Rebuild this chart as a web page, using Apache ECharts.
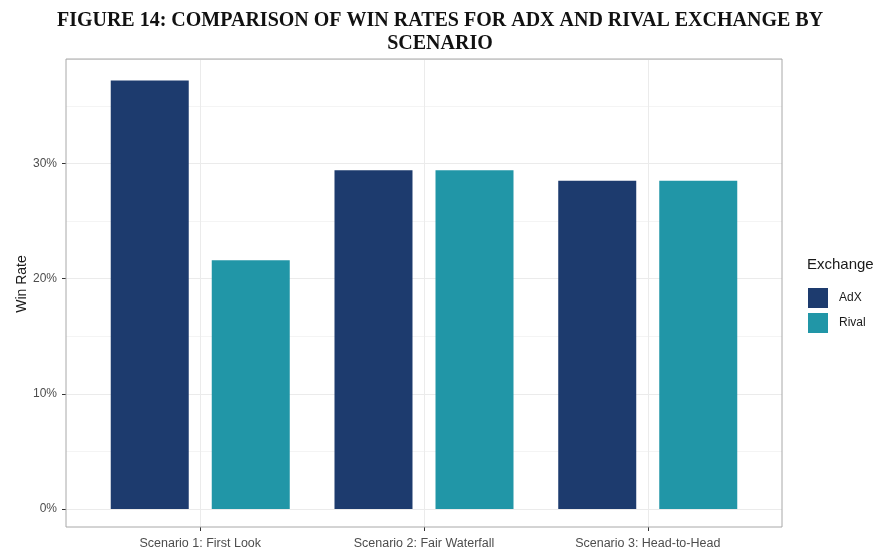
<!DOCTYPE html>
<html>
<head>
<meta charset="utf-8">
<script src="https://cdn.jsdelivr.net/npm/echarts@6/dist/echarts.min.js"></script>
<style>
html,body{margin:0;padding:0;background:#fff;}
#chart{width:880px;height:550px;}
</style>
</head>
<body>
<div id="chart"></div>
<script>
const scenarios = ['Scenario 1: First Look', 'Scenario 2: Fair Waterfall', 'Scenario 3: Head-to-Head'];
const scenarioPos = [1, 2, 3];
const adxRates = [37.2, 29.4, 28.5];
const rivalRates = [21.6, 29.4, 28.5];
const yTickValues = [0, 10, 20, 30];
const seriesNames = ['AdX', 'Rival'];

const FONT = '"Liberation Sans", Arial, sans-serif';
const chart = echarts.init(document.getElementById('chart'), null, {renderer: 'canvas'});

const yMax = 39.06;
const xMin = 0.4, xMax = 3.6;

chart.setOption({
  animation: false,
  backgroundColor: '#ffffff',
  title: [
    {
      text: 'FIGURE 14: COMPARISON OF WIN RATES FOR ADX AND RIVAL EXCHANGE BY\nSCENARIO',
      left: 440, top: 9, padding: 0, textAlign: 'center',
      textStyle: {fontFamily: '"Liberation Serif", "Times New Roman", serif', fontWeight: 'bold',
        fontSize: 20, lineHeight: 23, color: '#111111'}
    },
    {
      text: 'Exchange', left: 807, top: 257, padding: 0,
      textStyle: {fontFamily: FONT, fontWeight: 'normal', fontSize: 15, color: '#1a1a1a'}
    }
  ],
  legend: {
    data: seriesNames, orient: 'vertical', left: 803, top: 283,
    itemWidth: 20, itemHeight: 20, itemGap: 5, icon: 'rect',
    textStyle: {fontFamily: FONT, fontSize: 12, color: '#1a1a1a', padding: [0, 0, 0, 6]}
  },
  grid: [
    {left: 66, right: 98, top: 59, bottom: 41, containLabel: false},
    {left: 66, right: 98, top: 59, bottom: 21, containLabel: false, show: true,
      borderColor: '#a8a8a8', borderWidth: 1, backgroundColor: 'transparent', z: 5}
  ],
  xAxis: [
    {gridIndex: 0, type: 'value', min: xMin, max: xMax, show: false},
    {gridIndex: 1, type: 'value', min: xMin, max: xMax, interval: 1, position: 'bottom',
      axisLine: {show: false},
      axisTick: {show: true, customValues: scenarioPos, length: 4, lineStyle: {color: '#333333'}},
      axisLabel: {show: true, customValues: scenarioPos, margin: 10, fontFamily: FONT, fontSize: 12.5, color: '#4d4d4d',
        formatter: v => scenarios[Math.round(v) - 1] || ''},
      splitLine: {show: true, lineStyle: {color: '#ebebeb', width: 1}}
    }
  ],
  yAxis: [
    {gridIndex: 0, type: 'value', min: 0, max: yMax, interval: 10,
      axisLine: {show: false},
      axisTick: {show: true, customValues: yTickValues, length: 4, lineStyle: {color: '#333333'}},
      axisLabel: {show: true, customValues: yTickValues, margin: 9, fontFamily: FONT, fontSize: 12, color: '#4d4d4d',
        formatter: v => v + '%'},
      splitLine: {show: false},
      name: 'Win Rate', nameLocation: 'middle', nameRotate: 90, nameGap: 37, nameMoveOverlap: false,
      nameTextStyle: {fontFamily: FONT, fontSize: 14, color: '#1a1a1a'}
    },
    {gridIndex: 0, type: 'value', min: 0, max: yMax, interval: 5,
      axisLine: {show: false}, axisTick: {show: false}, axisLabel: {show: false},
      splitLine: {show: true, lineStyle: {color: ['#ebebeb', '#f4f4f4'], width: 1}}
    },
    {gridIndex: 1, type: 'value', min: 0, max: 1, show: false}
  ],
  series: [
    {name: seriesNames[0], type: 'bar', xAxisIndex: 0, yAxisIndex: 0,
      data: scenarioPos.map((x, i) => [x, adxRates[i]]),
      barWidth: 78, barGap: '29.5%', itemStyle: {color: '#1d3b6e'}, z: 3},
    {name: seriesNames[1], type: 'bar', xAxisIndex: 0, yAxisIndex: 0,
      data: scenarioPos.map((x, i) => [x, rivalRates[i]]),
      barWidth: 78, barGap: '29.5%', itemStyle: {color: '#2196a7'}, z: 3}
  ]
});
</script>
</body>
</html>
